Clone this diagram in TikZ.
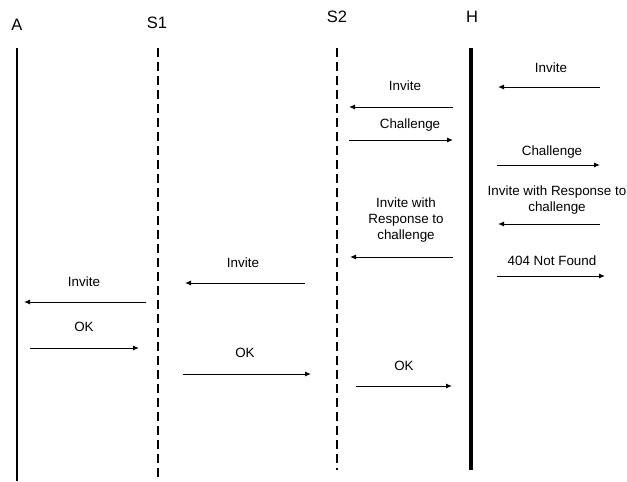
\documentclass[tikz,border=0pt]{standalone}
\usepackage{fontspec}
\setmainfont{Liberation Sans}
\usetikzlibrary{arrows.meta}
\begin{document}
\begin{tikzpicture}[x=1pt,y=-1pt,
  head/.style={font=\fontsize{16.5}{18}\selectfont, inner sep=0pt},
  lbl/.style={font=\fontsize{13.4}{15.8}\selectfont, inner sep=0pt, align=center},
  msg/.style={line width=1pt, -{Latex[length=6pt,width=5pt]}},
  solidlife/.style={line width=2pt},
  dashlife/.style={line width=1.8pt, dash pattern=on 9pt off 5pt},
  thicklife/.style={line width=3.4pt}]
\useasboundingbox (0,0) rectangle (627,482);

% participants
\node[head] (A)  at (17,25)  {A};
\node[head] (S1) at (157,23) {S1};
\node[head] (S2) at (337,17) {S2};
\node[head] (H)  at (472,17) {H};

% lifelines
\coordinate (Atop) at (17,48);   \coordinate (Abot) at (17,481);
\coordinate (S1top) at (158,48); \coordinate (S1bot) at (158,481);
\coordinate (S2top) at (337,48); \coordinate (S2bot) at (337,470);
\coordinate (Htop) at (471,48);  \coordinate (Hbot) at (471,470);
\draw[solidlife] (Atop) -- (Abot);
\draw[dashlife] (S1top) -- (S1bot);
\draw[dashlife, line width=1.4pt] (S2top) -- (S2bot);
\draw[thicklife] (Htop) -- (Hbot);

% messages beyond H
\coordinate (m1s) at (600,87);  \coordinate (m1e) at (498,87);
\draw[msg] (m1s) -- (m1e);
\node[lbl] (l1) at (551,68) {Invite};

\coordinate (m4s) at (497,165); \coordinate (m4e) at (600,165);
\draw[msg] (m4s) -- (m4e);
\node[lbl] (l4) at (552,152) {Challenge};

\coordinate (m5s) at (600,224); \coordinate (m5e) at (498,224);
\draw[msg] (m5s) -- (m5e);
\node[lbl] (l5) at (557,200) {Invite with Response to\\challenge};

\coordinate (m7s) at (497,276); \coordinate (m7e) at (605,276);
\draw[msg] (m7s) -- (m7e);
\node[lbl] (l7) at (552,261) {404 Not Found};

% messages between S2 and H
\coordinate (m2s) at (453,107); \coordinate (m2e) at (349,107);
\draw[msg] (m2s) -- (m2e);
\node[lbl] (l2) at (405,86) {Invite};

\coordinate (m3s) at (349,140); \coordinate (m3e) at (453,140);
\draw[msg] (m3s) -- (m3e);
\node[lbl] (l3) at (410,125) {Challenge};

\coordinate (m6s) at (453,257); \coordinate (m6e) at (350,257);
\draw[msg] (m6s) -- (m6e);
\node[lbl] (l6) at (406,220) {Invite with\\Response to\\challenge};

\coordinate (m12s) at (356,386); \coordinate (m12e) at (452,386);
\draw[msg] (m12s) -- (m12e);
\node[lbl] (l12) at (404,366) {OK};

% messages between S1 and S2
\coordinate (m8s) at (305,283); \coordinate (m8e) at (185,283);
\draw[msg] (m8s) -- (m8e);
\node[lbl] (l8) at (243,263) {Invite};

\coordinate (m11s) at (183,374); \coordinate (m11e) at (311,374);
\draw[msg] (m11s) -- (m11e);
\node[lbl] (l11) at (245,353) {OK};

% messages between A and S1
\coordinate (m9s) at (146,302); \coordinate (m9e) at (24,302);
\draw[msg] (m9s) -- (m9e);
\node[lbl] (l9) at (84,282) {Invite};

\coordinate (m10s) at (30,348); \coordinate (m10e) at (139,348);
\draw[msg] (m10s) -- (m10e);
\node[lbl] (l10) at (84,327) {OK};
\end{tikzpicture}
\end{document}
